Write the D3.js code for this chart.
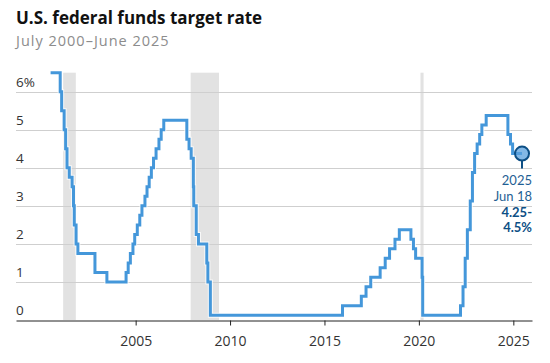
<!DOCTYPE html>
<html>
<head>
<meta charset="utf-8">
<script src="https://cdn.jsdelivr.net/npm/d3@7"></script>
<style>
  html, body { margin: 0; padding: 0; background: #fff; }
  svg { display: block; font-family: "Open Sans", Lato, sans-serif; }
</style>
</head>
<body>
<svg id="chart" width="550" height="363"></svg>
<script>
// ---- Data ----
const rateDates = [
  "2000-07-01","2001-01-03","2001-01-31","2001-03-20","2001-04-18","2001-05-15","2001-06-27",
  "2001-08-21","2001-09-17","2001-10-02","2001-11-06","2001-12-11","2002-11-06","2003-06-25",
  "2004-06-30","2004-08-10","2004-09-21","2004-11-10","2004-12-14","2005-02-02","2005-03-22",
  "2005-05-03","2005-06-30","2005-08-09","2005-09-20","2005-11-01","2005-12-13","2006-01-31",
  "2006-03-28","2006-05-10","2006-06-29","2007-09-18","2007-10-31","2007-12-11","2008-01-22",
  "2008-01-30","2008-03-18","2008-04-30","2008-10-08","2008-10-29","2008-12-16","2015-12-16",
  "2016-12-14","2017-03-15","2017-06-14","2017-12-13","2018-03-21","2018-06-13","2018-09-26",
  "2018-12-19","2019-07-31","2019-09-18","2019-10-30","2020-03-03","2020-03-15","2022-03-16",
  "2022-05-04","2022-06-15","2022-07-27","2022-09-21","2022-11-02","2022-12-14","2023-02-01",
  "2023-03-22","2023-05-03","2023-07-26","2024-09-18","2024-11-07","2024-12-18","2025-06-18"
];
const rateValues = [
  6.5, 6.0, 5.5, 5.0, 4.5, 4.0, 3.75,
  3.5, 3.0, 2.5, 2.0, 1.75, 1.25, 1.0,
  1.25, 1.5, 1.75, 2.0, 2.25, 2.5, 2.75,
  3.0, 3.25, 3.5, 3.75, 4.0, 4.25, 4.5,
  4.75, 5.0, 5.25, 4.75, 4.5, 4.25, 3.5,
  3.0, 2.25, 2.0, 1.5, 1.0, 0.125, 0.375,
  0.625, 0.875, 1.125, 1.375, 1.625, 1.875, 2.125,
  2.375, 2.125, 1.875, 1.625, 1.125, 0.125, 0.375,
  0.875, 1.625, 2.375, 3.125, 3.875, 4.375, 4.625,
  4.875, 5.125, 5.375, 4.875, 4.625, 4.375, 4.375
];
const recessionStarts = ["2001-03-01", "2007-12-01", "2020-02-01"];
const recessionEnds   = ["2001-11-01", "2009-06-01", "2020-04-01"];
const yTicks = [0, 1, 2, 3, 4, 5, 6];
const yTickLabels = ["0", "1", "2", "3", "4", "5", "6%"];
const xTickYears = [2005, 2010, 2015, 2020, 2025];
const titleText = "U.S. federal funds target rate";
const subtitleText = "July 2000\u2013June 2025";
const annoDate = "2025-06-18";
const annoValue = 4.375;
const annoLines = ["2025", "Jun 18", "4.25-", "4.5%"];

// ---- Chart ----
(function () {
const parse = d3.timeParse("%Y-%m-%d");
const svg = d3.select("#chart");
const L = 16, R = 532, T = 72.7, B = 320;

const x = d3.scaleTime()
  .domain([new Date(1998, 8, 1), new Date(2025, 11, 28)])
  .range([L, R]);
const y = d3.scaleLinear().domain([0, 6.5]).range([B, T]);

// title
svg.append("text").attr("x", 16).attr("y", 24)
  .attr("font-size", 17).attr("font-weight", 700).attr("fill", "#111")
  .text(titleText);
svg.append("text").attr("x", 16).attr("y", 46)
  .attr("font-size", 14.5).attr("fill", "#8c8c8c").attr("letter-spacing", 1.0)
  .text(subtitleText);

// recession bars
svg.append("g").selectAll("rect")
  .data(recessionStarts.map((s, i) => [parse(s), parse(recessionEnds[i])]))
  .join("rect")
  .attr("x", d => x(d[0]))
  .attr("width", d => x(d[1]) - x(d[0]))
  .attr("y", y(6.5))
  .attr("height", y(0) - y(6.5))
  .attr("fill", "#e2e2e2");

// grid lines
svg.append("g").selectAll("line")
  .data(yTicks.filter(v => v > 0))
  .join("line")
  .attr("x1", L).attr("x2", R)
  .attr("y1", d => Math.round(y(d)) + 0.5).attr("y2", d => Math.round(y(d)) + 0.5)
  .attr("stroke", "#cfcfcf").attr("stroke-width", 1);

// y labels
svg.append("g").selectAll("text")
  .data(yTicks)
  .join("text")
  .attr("x", L)
  .attr("y", d => y(d) - 5)
  .attr("font-size", 13.5).attr("fill", "#333")
  .text((d, i) => yTickLabels[i]);

// x axis
const xAxis = d3.axisBottom(x)
  .tickValues(xTickYears.map(yr => new Date(yr, 0, 1)))
  .tickFormat(d3.timeFormat("%Y"))
  .tickSize(5)
  .tickSizeOuter(0);
const gx = svg.append("g").attr("transform", `translate(0,${Math.round(B) + 0.5})`).call(xAxis);
gx.select(".domain").attr("stroke", "#222");
gx.selectAll(".tick line").attr("stroke", "#222");
gx.selectAll(".tick text")
  .attr("font-family", "'Open Sans', Lato, sans-serif")
  .attr("font-size", 14).attr("fill", "#333").attr("dy", "0")
  .attr("y", 25.5);

// line
const data = rateDates.map((d, i) => ({ date: parse(d), value: rateValues[i] }));
const line = d3.line().x(d => x(d.date)).y(d => y(d.value)).curve(d3.curveStepAfter);
svg.append("path").datum(data).attr("d", line)
  .attr("fill", "none").attr("stroke", "#fff").attr("stroke-width", 5)
  .attr("stroke-linejoin", "miter").attr("stroke-opacity", 0.8);
svg.append("path").datum(data).attr("d", line)
  .attr("fill", "none").attr("stroke", "#4497da").attr("stroke-width", 3)
  .attr("stroke-linejoin", "miter");

// annotation
const ax = x(parse(annoDate)), ay = y(annoValue);
svg.append("line").attr("x1", ax).attr("x2", ax).attr("y1", ay + 7).attr("y2", ay + 15)
  .attr("stroke", "#0d4f85").attr("stroke-width", 2);
svg.append("circle").attr("cx", ax).attr("cy", ay).attr("r", 7)
  .attr("fill", "rgba(90,160,222,0.75)").attr("stroke", "#0d4f85").attr("stroke-width", 2);
svg.append("g").selectAll("text")
  .data(annoLines)
  .join("text")
  .attr("x", R).attr("y", (d, i) => 185 + i * 15.8)
  .attr("text-anchor", "end").attr("font-size", 13)
  .attr("font-family", "Lato, 'Open Sans', sans-serif")
  .attr("font-weight", (d, i) => i >= 2 ? 700 : 400)
  .attr("fill", (d, i) => i >= 2 ? "#0d4f85" : "#1f5f94")
  .text(d => d);
})();
</script>
</body>
</html>
